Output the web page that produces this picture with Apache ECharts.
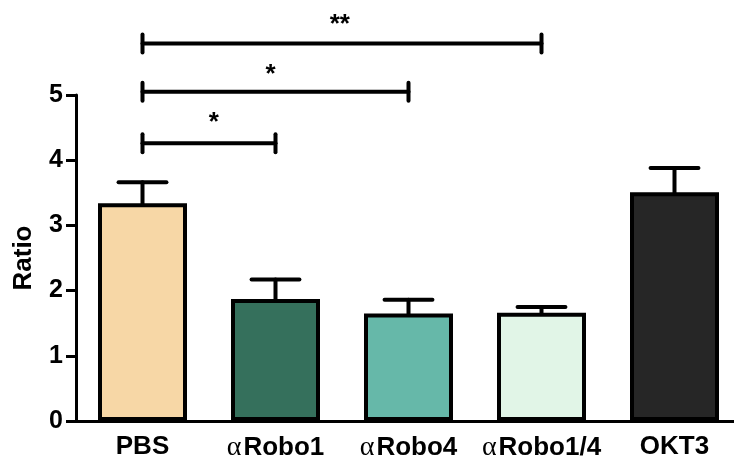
<!DOCTYPE html>
<html>
<head>
<meta charset="utf-8">
<script src="https://cdn.jsdelivr.net/npm/echarts@6/dist/echarts.min.js"></script>
<style>
  html, body { margin: 0; padding: 0; background: #fff; }
  #chart { width: 734px; height: 459px; }
</style>
</head>
<body>
<div id="chart"></div>
<script>
// Groups and mean ratio with upper error (SEM)
const categories = ['PBS', 'αRobo1', 'αRobo4', 'αRobo1/4', 'OKT3'];
const means = [3.34, 1.87, 1.65, 1.66, 3.51];
const errors = [0.32, 0.30, 0.21, 0.09, 0.37];
const barColors = ['#F7D7A6', '#35705C', '#66B8A9', '#E1F5E7', '#262626'];
const yTicks = [0, 1, 2, 3, 4, 5];

// Significance brackets: from group index, to group index, bracket height, mark
const bracketFrom = [0, 0, 0];
const bracketTo = [1, 2, 3];
const bracketY = [4.26, 5.05, 5.79];
const bracketMark = ['*', '*', '**'];
const markX = [0.536, 0.963, 1.484];
const markY = [4.57, 5.31, 6.07];

const chart = echarts.init(document.getElementById('chart'), null, { renderer: 'canvas' });

const font = '"Liberation Sans", Arial, sans-serif';

const option = {
  animation: false,
  backgroundColor: '#ffffff',
  grid: { left: 76, width: 665, top: 95, bottom: 38, containLabel: false, outerBoundsMode: 'none' },
  xAxis: [
    {
      type: 'category',
      data: categories,
      boundaryGap: true,
      axisLine: { lineStyle: { color: '#000', width: 3 } },
      axisTick: { alignWithLabel: true, length: 9, lineStyle: { color: '#000', width: 3 } },
      axisLabel: {
        margin: 13,
        interval: 0,
        formatter: function (v) {
          if (v.charAt(0) === 'α') return '{a|α}{b|' + v.slice(1) + '}';
          return '{b|' + v + '}';
        },
        rich: {
          a: { fontFamily: '"Liberation Serif", "DejaVu Serif", serif', fontSize: 28, color: '#000', fontWeight: 'normal', padding: [0, 2, 0, 0] },
          b: { fontFamily: font, fontSize: 26, fontWeight: 'bold', color: '#000' }
        }
      },
      splitLine: { show: false }
    },
    {
      type: 'value',
      min: -0.5,
      max: 4.5,
      show: false
    }
  ],
  yAxis: {
    type: 'value',
    min: 0,
    max: 5,
    interval: 1,
    name: 'Ratio',
    nameLocation: 'middle',
    nameRotate: 90,
    nameGap: 39,
    nameTextStyle: { fontFamily: font, fontSize: 26, fontWeight: 'bold', color: '#000' },
    axisLine: { show: true, onZero: false, lineStyle: { color: '#000', width: 3 } },
    axisTick: { show: true, length: 10, lineStyle: { color: '#000', width: 3 } },
    axisLabel: {
      margin: 13,
      fontFamily: font,
      fontSize: 25,
      fontWeight: 'bold',
      color: '#000',
      formatter: function (v) { return yTicks.indexOf(v) >= 0 ? String(v) : ''; }
    },
    splitLine: { show: false }
  },
  series: [
    {
      type: 'bar',
      xAxisIndex: 0,
      barWidth: 89,
      data: means.map(function (m, i) {
        return { value: m, itemStyle: { color: barColors[i] } };
      }),
      itemStyle: { borderColor: '#000', borderWidth: 4 },
      z: 2
    },
    {
      // upper error bars
      type: 'custom',
      xAxisIndex: 0,
      data: means.map(function (m, i) { return [i, m, m + errors[i]]; }),
      renderItem: function (params, api) {
        const base = api.coord([api.value(0), api.value(1)]);
        const top = api.coord([api.value(0), api.value(2)]);
        const half = api.size([1, 0])[0] * 0.18;
        const style = { stroke: '#000', lineWidth: 4, lineCap: 'round' };
        return {
          type: 'group',
          children: [
            { type: 'line', shape: { x1: top[0], y1: base[1], x2: top[0], y2: top[1] }, style: style },
            { type: 'line', shape: { x1: top[0] - half, y1: top[1], x2: top[0] + half, y2: top[1] }, style: style }
          ]
        };
      },
      z: 1
    },
    {
      // significance brackets with their marks
      type: 'custom',
      xAxisIndex: 1,
      clip: false,
      data: bracketFrom.map(function (f, i) {
        return [f, bracketTo[i], bracketY[i], markX[i], markY[i]];
      }),
      renderItem: function (params, api) {
        const i = params.dataIndex;
        const p1 = api.coord([api.value(0), api.value(2)]);
        const p2 = api.coord([api.value(1), api.value(2)]);
        const pm = api.coord([api.value(3), api.value(4)]);
        const style = { stroke: '#000', lineWidth: 4, lineCap: 'round' };
        return {
          type: 'group',
          children: [
            { type: 'line', shape: { x1: p1[0], y1: p1[1], x2: p2[0], y2: p2[1] }, style: style },
            { type: 'line', shape: { x1: p1[0], y1: p1[1] - 9, x2: p1[0], y2: p1[1] + 9 }, style: style },
            { type: 'line', shape: { x1: p2[0], y1: p2[1] - 9, x2: p2[0], y2: p2[1] + 9 }, style: style },
            {
              type: 'text',
              style: {
                x: pm[0], y: pm[1],
                text: bracketMark[i],
                fill: '#000',
                font: 'bold 26px ' + font,
                textAlign: 'center',
                textVerticalAlign: 'middle'
              }
            }
          ]
        };
      },
      z: 3
    }
  ]
};

chart.setOption(option);
</script>
</body>
</html>
